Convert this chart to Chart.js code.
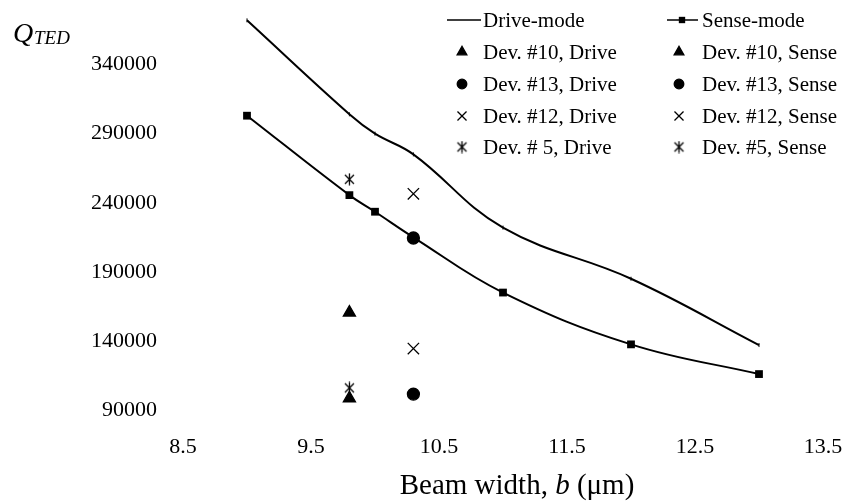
<!DOCTYPE html>
<html>
<head>
<meta charset="utf-8">
<script src="https://cdn.jsdelivr.net/npm/chart.js@4.4.0/dist/chart.umd.min.js"></script>
<style>
    html, body { margin: 0; padding: 0; background: #fff; }
    #wrap { width: 847px; height: 503px; }
</style>
</head>
<body>
<div id="wrap"><canvas id="qtedChart" width="847" height="503"></canvas></div>
<script>
// ===========================
// Q_TED vs beam width
// ===========================

// model curves (beam width in um)
const curveX = [9.0, 9.8, 10.0, 10.3, 11.0, 12.0, 13.0];
const driveQ = [372000, 304000, 290000, 275000, 222000, 185000, 137000];
const senseQ = [303000, 245500, 233500, 215000, 175000, 137500, 116000];

// measured devices: #10, #13, #12, #5
const devX      = [9.8, 10.3, 10.3, 9.8];
const devDriveQ = [160500, 214500, 246500, 257000];
const devSenseQ = [98500, 101500, 134500, 106000];
const devDriveLabels = ['Dev. #10, Drive', 'Dev. #13, Drive', 'Dev. #12, Drive', 'Dev. # 5, Drive'];
const devSenseLabels = ['Dev. #10, Sense', 'Dev. #13, Sense', 'Dev. #12, Sense', 'Dev. #5, Sense'];

// axis ticks
const xTicks = [8.5, 9.5, 10.5, 11.5, 12.5, 13.5];
const yTicks = [90000, 140000, 190000, 240000, 290000, 340000];

const SERIF = '"Liberation Serif", "Times New Roman", serif';

// asterisk marker (x with a vertical stroke), like the Excel one
function makeAsterisk() {
    const c = document.createElement('canvas');
    c.width = 13; c.height = 13;
    const g = c.getContext('2d');
    g.strokeStyle = '#000';
    g.lineWidth = 1.3;
    g.beginPath();
    g.moveTo(2, 2); g.lineTo(11, 11);
    g.moveTo(11, 2); g.lineTo(2, 11);
    g.moveTo(6.5, 0.5); g.lineTo(6.5, 12.5);
    g.stroke();
    return c;
}
const asterisk = makeAsterisk();

const markerStyles = [
    { pointStyle: 'triangle', radius: 7 },
    { pointStyle: 'circle', radius: 6 },
    { pointStyle: 'crossRot', radius: 8 },
    { pointStyle: asterisk, radius: 6 }
];

function xy(xs, ys) {
    return xs.map((x, i) => ({ x: x, y: ys[i] }));
}

const datasets = [
    {
        label: 'Drive-mode',
        data: xy(curveX, driveQ),
        showLine: true,
        tension: 0.4,
        clip: false,
        borderColor: '#000',
        backgroundColor: '#000',
        borderWidth: 2,
        pointStyle: 'line',
        pointRotation: 90,
        pointRadius: 2,
        pointBorderWidth: 1
    },
    {
        label: 'Sense-mode',
        data: xy(curveX, senseQ),
        showLine: true,
        tension: 0.4,
        clip: false,
        borderColor: '#000',
        backgroundColor: '#000',
        borderWidth: 2,
        pointStyle: 'rect',
        pointRadius: 5.5,
        pointBorderWidth: 0
    }
];

devX.forEach((x, i) => {
    const m = markerStyles[i];
    [[devDriveLabels[i], devDriveQ[i]], [devSenseLabels[i], devSenseQ[i]]].forEach(([label, q]) => {
        datasets.push({
            label: label,
            data: [{ x: x, y: q }],
            showLine: false,
            clip: false,
            borderColor: '#000',
            backgroundColor: '#000',
            pointStyle: m.pointStyle,
            pointRadius: m.radius,
            pointBorderWidth: 1.3
        });
    });
});

// legend in two columns + axis titles, drawn on the canvas
const annotations = {
    id: 'annotations',
    afterDraw(chart) {
        const ctx = chart.ctx;
        ctx.save();
        ctx.fillStyle = '#000';
        ctx.strokeStyle = '#000';

        const rowY = [20, 52, 84, 116, 147];
        const cols = [
            { lineFrom: 447, lineTo: 481, marker: 462, text: 483 },
            { lineFrom: 667, lineTo: 698, marker: 679, text: 702 }
        ];
        chart.data.datasets.forEach((ds, i) => {
            const col = cols[i % 2];
            const y = rowY[Math.floor(i / 2)];
            if (ds.showLine) {
                ctx.lineWidth = 1.5;
                ctx.beginPath();
                ctx.moveTo(col.lineFrom, y);
                ctx.lineTo(col.lineTo, y);
                ctx.stroke();
            }
            if (i > 0) {
                const r = ds.pointStyle === 'rect' ? 4.5 : ds.pointRadius * 0.8;
                ctx.lineWidth = ds.pointBorderWidth || 1;
                Chart.helpers.drawPoint(ctx, {
                    pointStyle: ds.pointStyle,
                    radius: r,
                    rotation: 0,
                    borderWidth: ds.pointBorderWidth
                }, i === 1 ? col.marker + 3 : col.marker, y);
            }
            ctx.font = '21px ' + SERIF;
            ctx.textBaseline = 'middle';
            ctx.textAlign = 'left';
            ctx.fillText(ds.label, col.text, y + 1);
        });

        // y title: Q_TED
        ctx.textBaseline = 'alphabetic';
        ctx.font = 'italic 28px ' + SERIF;
        ctx.fillText('Q', 13, 42);
        ctx.font = 'italic 19px ' + SERIF;
        ctx.fillText('TED', 34, 44);

        // x title: Beam width, b (um)
        const parts = [
            ['Beam width, ', '29px ' + SERIF],
            ['b', 'italic 29px ' + SERIF],
            [' (\u03bcm)', '29px ' + SERIF]
        ];
        let total = 0;
        parts.forEach(p => { ctx.font = p[1]; total += ctx.measureText(p[0]).width; });
        let tx = 517 - total / 2;
        parts.forEach(p => {
            ctx.font = p[1];
            ctx.fillText(p[0], tx, 494);
            tx += ctx.measureText(p[0]).width;
        });
        ctx.restore();
    }
};

new Chart(document.getElementById('qtedChart'), {
    type: 'scatter',
    data: { datasets: datasets },
    options: {
        responsive: false,
        animation: false,
        devicePixelRatio: 1,
        layout: { padding: { top: 8, right: 24, left: 0, bottom: 0 } },
        plugins: {
            legend: { display: false },
            tooltip: { enabled: false }
        },
        scales: {
            x: {
                type: 'linear',
                min: 8.5,
                max: 13.5,
                grid: { display: false },
                border: { display: false },
                afterBuildTicks: scale => { scale.ticks = xTicks.map(v => ({ value: v })); },
                afterFit: scale => {
                    scale.height = 93;
                    scale.paddingLeft = 0;
                    scale.paddingRight = 0;
                },
                ticks: {
                    color: '#000',
                    padding: 16,
                    maxRotation: 0,
                    font: { family: SERIF, size: 22 },
                    callback: v => v.toFixed(1)
                }
            },
            y: {
                type: 'linear',
                min: 90000,
                max: 380000,
                grid: { display: false },
                border: { display: false },
                afterBuildTicks: scale => { scale.ticks = yTicks.map(v => ({ value: v })); },
                afterFit: scale => {
                    scale.width = 183;
                    scale.paddingTop = 0;
                    scale.paddingBottom = 0;
                },
                ticks: {
                    color: '#000',
                    padding: 18,
                    font: { family: SERIF, size: 22 },
                    callback: v => String(v)
                }
            }
        }
    },
    plugins: [annotations]
});
</script>
</body>
</html>
